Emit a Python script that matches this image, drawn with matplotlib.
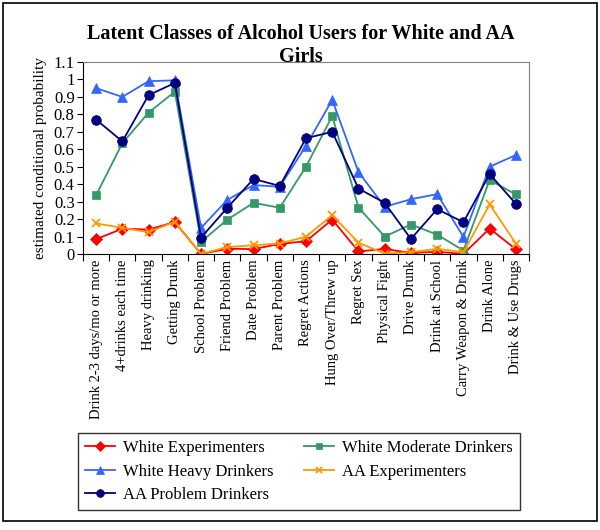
import numpy as np
import matplotlib
matplotlib.use("Agg")
import matplotlib.pyplot as plt
from matplotlib.patches import Rectangle

plt.rcParams['font.family'] = ['Liberation Serif', 'DejaVu Serif']

categories = ["Drink 2-3 days/mo or more", "4+drinks each time", "Heavy drinking",
              "Getting Drunk", "School Problem", "Friend Problem", "Date Problem",
              "Parent Problem", "Regret Actions", "Hung Over/Threw up", "Regret Sex",
              "Physical Fight", "Drive Drunk", "Drink at School", "Carry Weapon & Drink",
              "Drink Alone", "Drink & Use Drugs"]

white_exp = [0.085, 0.145, 0.14, 0.183, 0.0, 0.03, 0.028, 0.058, 0.073, 0.197,
             0.015, 0.029, 0.006, 0.013, 0.0, 0.146, 0.027]
white_mod = [0.337, 0.635, 0.81, 0.93, 0.07, 0.197, 0.293, 0.265, 0.50, 0.79,
             0.266, 0.10, 0.169, 0.111, 0.02, 0.424, 0.341]
white_heavy = [0.95, 0.90, 0.99, 0.995, 0.15, 0.31, 0.395, 0.385, 0.62, 0.883,
               0.47, 0.27, 0.314, 0.343, 0.098, 0.50, 0.567]
aa_exp = [0.175, 0.15, 0.125, 0.185, 0.0, 0.04, 0.05, 0.06, 0.10, 0.222,
          0.065, 0.002, 0.01, 0.03, 0.01, 0.284, 0.06]
aa_prob = [0.77, 0.645, 0.91, 0.98, 0.094, 0.265, 0.43, 0.39, 0.663, 0.70,
           0.375, 0.293, 0.086, 0.257, 0.182, 0.458, 0.287]

yticks = [0, 0.1, 0.2, 0.3, 0.4, 0.5, 0.6, 0.7, 0.8, 0.9, 1.0, 1.1]
ytick_labels = ["0", "0.1", "0.2", "0.3", "0.4", "0.5", "0.6", "0.7", "0.8", "0.9", "1", "1.1"]

fig = plt.figure(figsize=(6, 5.3), dpi=100)
fig.patches.append(Rectangle((0.005, 0.017), 0.99, 0.977, transform=fig.transFigure,
                             fill=False, ec='black', lw=1.2))

ax = fig.add_axes([83/600, 1-254/530, 446/600, 192/530])
x = np.arange(len(categories)) + 0.5

series = [
    ("White Experimenters", white_exp, '#FF0000', 'D', 6),
    ("White Moderate Drinkers", white_mod, '#339966', 's', 6),
    ("White Heavy Drinkers", white_heavy, '#3366FF', '^', 7.5),
    ("AA Experimenters", aa_exp, '#FF9900', 'x', 6),
    ("AA Problem Drinkers", aa_prob, '#000080', 'o', 7),
]
handles = {}
for name, vals, col, mk, ms in series:
    h, = ax.plot(x, vals, color=col, marker=mk, markersize=ms, lw=1.3,
                 markeredgewidth=1.3 if mk == 'x' else 0.5, label=name)
    handles[name] = h

ax.set_xlim(0, len(categories))
ax.set_ylim(0, 1.1)
ax.set_yticks(yticks)
ax.set_yticklabels(ytick_labels, fontsize=12)
ax.set_xticks(np.arange(len(categories) + 1))
ax.set_xticklabels([])
ax.set_xticks(x, minor=True)
ax.set_xticklabels(categories, minor=True, rotation=90, fontsize=10.5)
ax.tick_params(axis='x', which='minor', length=0, pad=4)
ax.tick_params(axis='x', which='major', length=5, direction='out')
ax.tick_params(axis='y', length=4, direction='out', pad=2)
ax.spines['top'].set_color('#808080')
ax.spines['right'].set_color('#808080')
ax.set_ylabel("estimated conditional probability", fontsize=11, labelpad=5)

fig.text(0.502, 1-34/530, "Latent Classes of Alcohol Users for White and AA",
         ha='center', va='center', fontsize=14.5, fontweight='bold')
fig.text(0.502, 1-57/530, "Girls",
         ha='center', va='center', fontsize=14.5, fontweight='bold')

order = ["White Experimenters", "White Heavy Drinkers", "AA Problem Drinkers",
         "White Moderate Drinkers", "AA Experimenters"]
leg = fig.legend([handles[n] for n in order], order, ncol=2,
                 loc='lower left', bbox_to_anchor=(70/600, 12/530, 458/600, 85/530),
                 mode='expand', fontsize=12, frameon=True, fancybox=False,
                 handlelength=1.8, markerscale=0.8, borderpad=0.4, labelspacing=0.45,
                 columnspacing=1.5, handletextpad=0.5)
leg.get_frame().set_edgecolor('black')
leg.get_frame().set_linewidth(1.0)

fig.savefig("out.png", dpi=100)
